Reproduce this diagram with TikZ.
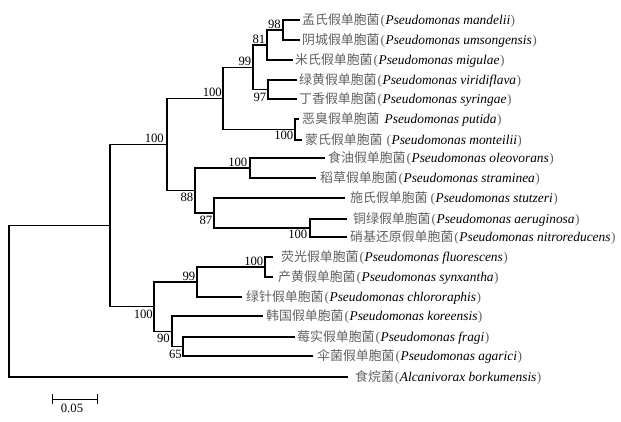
\documentclass[tikz,border=0pt]{standalone}
\usepackage{fontspec}
\setmainfont{Liberation Serif}
\newfontfamily\cjk{Noto Sans CJK SC}
\definecolor{cngray}{gray}{0.38}
\newcommand\zh[1]{{\cjk\fontsize{12.9}{14}\selectfont\color{cngray}#1}}
\newcommand\sci[1]{{\fontsize{13.4}{15}\selectfont\itshape #1}}
\newcommand\lpar{{\fontsize{13.4}{15}\selectfont\color{cngray}\kern1pt(\kern0.5pt}}
\newcommand\rpar{{\fontsize{13.4}{15}\selectfont\color{cngray}\kern0.5pt)}}
\tikzset{
  br/.style={line width=1.1pt},
  leaf/.style={anchor=base west, inner sep=0pt},
  bsa/.style={anchor=south east, inner sep=0pt, font=\fontsize{12.7}{14}\selectfont},
  bsb/.style={anchor=north east, inner sep=0pt, font=\fontsize{12.7}{14}\selectfont},
}
\begin{document}
\begin{tikzpicture}[x=1pt,y=-1pt]
\useasboundingbox (0,0) rectangle (621,421);
% internal nodes
\coordinate (root) at (9,301);
\coordinate (n110) at (110,225.25);
\coordinate (n100d) at (167,144.4);
\coordinate (n100a) at (223,98.25);
\coordinate (n99a) at (253,67.25);
\coordinate (n81) at (267,45);
\coordinate (n98) at (283,30);
\coordinate (n97) at (268,89.5);
\coordinate (nput) at (295,129.5);
\coordinate (n88) at (195,190.5);
\coordinate (n100b) at (250,168);
\coordinate (n87) at (214,213);
\coordinate (n100c) at (310,228);
\coordinate (n100f) at (154,306.5);
\coordinate (n99b) at (197,282);
\coordinate (n100e) at (265,267);
\coordinate (n90) at (172,331.25);
\coordinate (n65) at (183,346.5);
% leaf ends
\coordinate (e1) at (300,20);
\coordinate (e2) at (300,40);
\coordinate (e3) at (293,60);
\coordinate (e4) at (297,80);
\coordinate (e5) at (297,99);
\coordinate (e6) at (299,119);
\coordinate (e7) at (302,140);
\coordinate (e8) at (325,158);
\coordinate (e9) at (316,178);
\coordinate (e10) at (345,198);
\coordinate (e11) at (347,219);
\coordinate (e12) at (347,237);
\coordinate (e13) at (273,257);
\coordinate (e14) at (273,277);
\coordinate (e15) at (242,297);
\coordinate (e16) at (263,316);
\coordinate (e17) at (295,337);
\coordinate (e18) at (313,356);
\coordinate (e19) at (348,377);
% branches
\draw[br] (root) |- (n110);
\draw[br] (root) |- (e19);
\draw[br] (n110) |- (n100d);
\draw[br] (n110) |- (n100f);
\draw[br] (n100d) |- (n100a);
\draw[br] (n100d) |- (n88);
\draw[br] (n100a) |- (n99a);
\draw[br] (n100a) |- (nput);
\draw[br] (n99a) |- (n81);
\draw[br] (n99a) |- (n97);
\draw[br] (n81) |- (n98);
\draw[br] (n81) |- (e3);
\draw[br] (n98) |- (e1);
\draw[br] (n98) |- (e2);
\draw[br] (n97) |- (e4);
\draw[br] (n97) |- (e5);
\draw[br] (nput) |- (e6);
\draw[br] (nput) |- (e7);
\draw[br] (n88) |- (n100b);
\draw[br] (n88) |- (n87);
\draw[br] (n100b) |- (e8);
\draw[br] (n100b) |- (e9);
\draw[br] (n87) |- (e10);
\draw[br] (n87) |- (n100c);
\draw[br] (n100c) |- (e11);
\draw[br] (n100c) |- (e12);
\draw[br] (n100f) |- (n99b);
\draw[br] (n100f) |- (n90);
\draw[br] (n99b) |- (n100e);
\draw[br] (n99b) |- (e15);
\draw[br] (n100e) |- (e13);
\draw[br] (n100e) |- (e14);
\draw[br] (n90) |- (e16);
\draw[br] (n90) |- (n65);
\draw[br] (n65) |- (e17);
\draw[br] (n65) |- (e18);
% bootstrap labels
\node[bsa] (b98) at ([shift={(-2,-1.5)}]n98) {98};
\node[bsa] (b81) at ([shift={(-1.5,-1.5)}]n81) {81};
\node[bsa] (b99a) at ([shift={(-1.5,-1)}]n99a) {99};
\node[bsb] (b97) at ([shift={(-1.5,3)}]n97) {97};
\node[bsa] (b100a) at ([shift={(-1,-1.5)}]n100a) {100};
\node[bsb] (bput) at ([shift={(-1.5,1)}]nput) {100};
\node[bsa] (b100d) at ([shift={(-3,-2)}]n100d) {100};
\node[bsa] (b100b) at ([shift={(-2.5,-1.5)}]n100b) {100};
\node[bsb] (b88) at ([shift={(-1.5,2)}]n88) {88};
\node[bsb] (b87) at ([shift={(-1.5,3)}]n87) {87};
\node[bsb] (b100c) at ([shift={(-2.5,2)}]n100c) {100};
\node[bsa] (b100e) at ([shift={(-1.5,-1.5)}]n100e) {100};
\node[bsa] (b99b) at ([shift={(-1.5,-1.5)}]n99b) {99};
\node[bsb] (b100f) at ([shift={(-1,3)}]n100f) {100};
\node[bsb] (b90) at ([shift={(-2,3)}]n90) {90};
\node[bsb] (b65) at ([shift={(-1,3)}]n65) {65};
% leaf labels
\node[leaf] (t1) at (302,24.5) {\zh{孟氏假单胞菌}\lpar\sci{Pseudomonas mandelii}\rpar};
\node[leaf] (t2) at (302,44.5) {\zh{阴城假单胞菌}\lpar\sci{Pseudomonas umsongensis}\rpar};
\node[leaf] (t3) at (295,64.5) {\zh{米氏假单胞菌}\lpar\sci{Pseudomonas migulae}\rpar};
\node[leaf] (t4) at (299,84.5) {\zh{绿黄假单胞菌}\lpar\sci{Pseudomonas viridiflava}\rpar};
\node[leaf] (t5) at (299,103.5) {\zh{丁香假单胞菌}\lpar\sci{Pseudomonas syringae}\rpar};
\node[leaf] (t6) at (302,123.5) {\zh{恶臭假单胞菌}\hspace{5pt}\sci{Pseudomonas putida}\rpar};
\node[leaf] (t7) at (305,144.5) {\zh{蒙氏假单胞菌}\hspace{3pt}\lpar\sci{Pseudomonas monteilii}\rpar};
\node[leaf] (t8) at (328,162.5) {\zh{食油假单胞菌}\lpar\sci{Pseudomonas oleovorans}\rpar};
\node[leaf] (t9) at (320,182.5) {\zh{稻草假单胞菌}\lpar\sci{Pseudomonas straminea}\rpar};
\node[leaf] (t10) at (350,202.5) {\zh{施氏假单胞菌}\hspace{2pt}\lpar\sci{Pseudomonas stutzeri}\rpar};
\node[leaf] (t11) at (353,223.5) {\zh{铜绿假单胞菌}\lpar\sci{Pseudomonas aeruginosa}\rpar};
\node[leaf] (t12) at (350,241.5) {\zh{硝基还原假单胞菌}\lpar\sci{Pseudomonas nitroreducens}\rpar};
\node[leaf] (t13) at (281,261.5) {\zh{荧光假单胞菌}\lpar\sci{Pseudomonas fluorescens}\rpar};
\node[leaf] (t14) at (278,281.5) {\zh{产黄假单胞菌}\lpar\sci{Pseudomonas synxantha}\rpar};
\node[leaf] (t15) at (246,301.5) {\zh{绿针假单胞菌}\lpar\sci{Pseudomonas chlororaphis}\rpar};
\node[leaf] (t16) at (266,320.5) {\zh{韩国假单胞菌}\lpar\sci{Pseudomonas koreensis}\rpar};
\node[leaf] (t17) at (297,341.5) {\zh{莓实假单胞菌}\lpar\sci{Pseudomonas fragi}\rpar};
\node[leaf] (t18) at (317,360.5) {\zh{伞菌假单胞菌}\lpar\sci{Pseudomonas agarici}\rpar};
\node[leaf] (t19) at (355,381.5) {\zh{食烷菌}\lpar\sci{Alcanivorax borkumensis}\rpar};
% scale bar
\coordinate (s1) at (52,399);
\coordinate (s2) at (97,399);
\draw[line width=1pt] (s1) -- (s2);
\draw[line width=1pt] ([yshift=5pt]s1) -- ([yshift=-5pt]s1);
\draw[line width=1pt] ([yshift=5pt]s2) -- ([yshift=-5pt]s2);
\node[inner sep=0pt, anchor=north, font=\fontsize{12.7}{14}\selectfont] (sl) at (72,404) {0.05};
\end{tikzpicture}
\end{document}
